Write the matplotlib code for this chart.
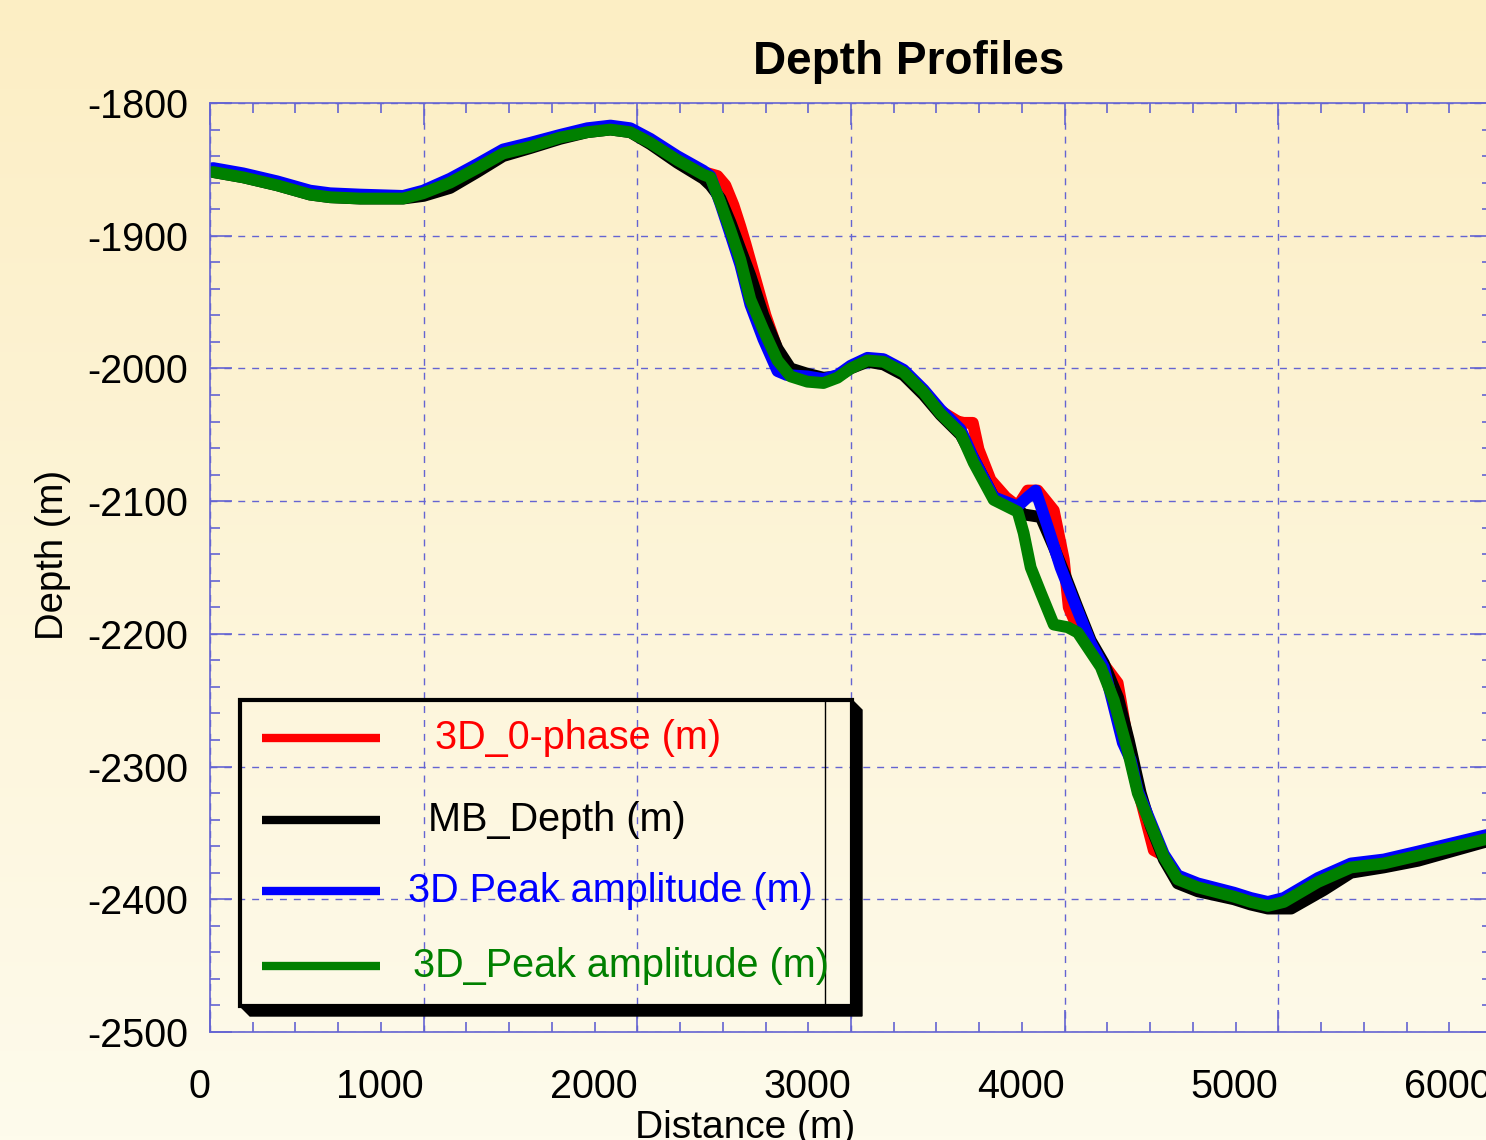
import matplotlib

matplotlib.use("Agg")
import matplotlib.pyplot as plt
import numpy as np
from matplotlib.lines import Line2D
from matplotlib.patches import Polygon, Rectangle
from matplotlib.ticker import MultipleLocator

W, H = 1486, 1140
SPINE = "#6464d2"

# --- data (distance m, depth m) ---
dist_red = [14, 155, 314, 468, 562, 703, 904, 998, 1124, 1251, 1372, 1499, 1639, 1766,
            1874, 1967, 2061, 2187, 2309, 2375, 2412, 2450, 2482, 2506, 2553, 2600, 2656,
            2717, 2796, 2871, 2937, 2998, 3077, 3152, 3246, 3340, 3419, 3500, 3527, 3570,
            3597, 3653, 3724, 3780, 3827, 3874, 3949, 3996, 4019, 4075, 4169, 4248, 4276,
            4309, 4356, 4417, 4464, 4529, 4623, 4792, 4871, 4951, 5026, 5185, 5340, 5494,
            5654, 5808, 5963, 6050]
depth_red = [-1851, -1855, -1861, -1868, -1870, -1871, -1871, -1867, -1859, -1848, -1837,
             -1832, -1825, -1821, -1819, -1821, -1829, -1842, -1852, -1855, -1862, -1877,
             -1893, -1906, -1933, -1960, -1986, -2002, -2006, -2009, -2006, -1999, -1993,
             -1994, -2002, -2017, -2032, -2040, -2041, -2041, -2061, -2084, -2097, -2104,
             -2092, -2092, -2107, -2144, -2180, -2201, -2220, -2237, -2263, -2295, -2325,
             -2363, -2367, -2384, -2390, -2397, -2401, -2404, -2401, -2386, -2375, -2372,
             -2366, -2360, -2354, -2351]

dist_mb = [14, 155, 314, 468, 562, 703, 904, 1000, 1124, 1251, 1372, 1499, 1639, 1766,
           1874, 1967, 2061, 2187, 2309, 2342, 2389, 2436, 2482, 2529, 2590, 2656, 2717,
           2796, 2871, 2937, 2998, 3077, 3152, 3246, 3340, 3419, 3513, 3574, 3668, 3780,
           3808, 3888, 3950, 4000, 4060, 4122, 4183, 4250, 4300, 4356, 4403, 4464, 4529,
           4623, 4792, 4871, 4951, 5060, 5213, 5340, 5494, 5654, 5808, 5963, 6050]
depth_mb = [-1852, -1856, -1862, -1869, -1871, -1872, -1872, -1870, -1864, -1852, -1840,
            -1834, -1827, -1822, -1820, -1822, -1831, -1845, -1857, -1862, -1872, -1890,
            -1910, -1930, -1960, -1985, -2000, -2004, -2007, -2006, -2000, -1995, -1997,
            -2005, -2020, -2035, -2050, -2068, -2097, -2106, -2110, -2112, -2135, -2155,
            -2180, -2205, -2222, -2248, -2280, -2320, -2345, -2370, -2388, -2394, -2400,
            -2404, -2407, -2407, -2393, -2380, -2376, -2371, -2364, -2357, -2355]

dist_blue = [14, 155, 314, 468, 562, 703, 904, 998, 1124, 1251, 1372, 1499, 1639, 1766,
             1874, 1967, 2061, 2187, 2309, 2342, 2389, 2436, 2482, 2529, 2590, 2656, 2700,
             2796, 2871, 2937, 2998, 3077, 3152, 3246, 3340, 3419, 3513, 3574, 3668, 3780,
             3827, 3864, 3920, 3981, 4042, 4122, 4183, 4230, 4272, 4309, 4342, 4403, 4464,
             4529, 4623, 4792, 4871, 4951, 5026, 5185, 5340, 5494, 5654, 5808, 5963, 6050]
depth_blue = [-1849, -1853, -1859, -1866, -1868, -1869, -1870, -1866, -1857, -1846, -1835,
              -1830, -1824, -1819, -1817, -1819, -1827, -1840, -1851, -1855, -1876, -1899,
              -1922, -1952, -1978, -2002, -2005, -2006, -2008, -2005, -1998, -1992, -1993,
              -2001, -2016, -2031, -2046, -2068, -2097, -2104, -2097, -2092, -2119, -2150,
              -2175, -2207, -2225, -2255, -2282, -2295, -2318, -2342, -2366, -2382, -2388,
              -2395, -2399, -2402, -2399, -2384, -2373, -2370, -2364, -2358, -2352, -2349]

dist_green = [14, 155, 314, 468, 562, 703, 904, 998, 1124, 1251, 1372, 1499, 1639, 1766,
              1874, 1967, 2061, 2187, 2309, 2342, 2389, 2436, 2482, 2529, 2590, 2656, 2717,
              2796, 2871, 2937, 2998, 3077, 3152, 3246, 3340, 3419, 3513, 3574, 3668, 3780,
              3808, 3841, 3888, 3949, 4014, 4061, 4169, 4230, 4295, 4342, 4403, 4464, 4529,
              4623, 4792, 4871, 4951, 5026, 5185, 5340, 5494, 5654, 5808, 5963, 6050]
depth_green = [-1852, -1856, -1862, -1869, -1871, -1872, -1872, -1868, -1860, -1849, -1838,
               -1833, -1826, -1822, -1820, -1822, -1830, -1843, -1854, -1856, -1875, -1896,
               -1918, -1948, -1971, -1994, -2006, -2010, -2011, -2007, -2000, -1994, -1995,
               -2003, -2018, -2034, -2049, -2071, -2099, -2108, -2124, -2150, -2169, -2193,
               -2195, -2199, -2225, -2250, -2288, -2320, -2344, -2368, -2385, -2391, -2398,
               -2402, -2405, -2402, -2387, -2376, -2373, -2367, -2361, -2355, -2352]

SERIES = [
    ("3D_0-phase (m)", dist_red, depth_red, "#ff0000"),
    ("MB_Depth (m)", dist_mb, depth_mb, "#000000"),
    ("3D Peak amplitude (m)", dist_blue, depth_blue, "#0000ff"),
    ("3D_Peak amplitude (m)", dist_green, depth_green, "#008000"),
]
X_TICKS = [0, 1000, 2000, 3000, 4000, 5000, 6000]
Y_TICKS = [-2500, -2400, -2300, -2200, -2100, -2000, -1900, -1800]

# legend layout in figure pixels: (line y, text x)
LEGEND_ROWS = [(738, 435), (820, 428), (891, 408), (966, 413)]

plt.rcParams["font.family"] = ["Liberation Sans", "DejaVu Sans"]
plt.rcParams["axes.unicode_minus"] = False


def px(x, y):
    return x / W, 1 - y / H


def draw_background(fig):
    bg = fig.add_axes([0, 0, 1, 1], zorder=-10)
    top = np.array([252, 238, 196]) / 255
    bottom = np.array([254, 251, 236]) / 255
    t = np.linspace(0, 1, 256)[:, None]
    grad = top * (1 - t) + bottom * t
    bg.imshow(grad[:, None, :], aspect="auto", extent=[0, 1, 0, 1])
    bg.axis("off")


def draw_legend(fig):
    lg = fig.add_axes([0, 0, 1, 1], zorder=5)
    lg.set_xlim(0, W)
    lg.set_ylim(H, 0)
    lg.axis("off")
    lg.patch.set_alpha(0)
    shadow = [(852, 700), (862, 710), (862, 1016), (250, 1016), (240, 1006), (852, 1006)]
    lg.add_patch(Polygon(shadow, closed=True, facecolor="black", edgecolor="black", lw=1))
    lg.add_patch(Rectangle((240, 700), 612, 306, fill=False, edgecolor="black", lw=3))
    lg.add_line(Line2D([825, 825], [701, 1005], color="black", lw=1))
    for (label, _, _, color), (ly, tx) in zip(SERIES, LEGEND_ROWS):
        lg.add_line(Line2D([262, 380], [ly, ly], color=color, lw=6, solid_capstyle="butt"))
        lg.text(tx, ly, label, color=color, fontsize=28.5, va="center", ha="left")


def main() -> None:
    fig = plt.figure(figsize=(W / 100, H / 100), dpi=100)
    draw_background(fig)

    l, b = px(210, 1032)
    r, t = px(1492, 103)
    ax = fig.add_axes([l, b, r - l, t - b])
    ax.patch.set_alpha(0)

    for label, xs, ys, color in SERIES:
        ax.plot(xs, ys, color=color, lw=8.5, solid_joinstyle="round",
                solid_capstyle="round", label=label)

    ax.set_xlim(0, 6000)
    ax.set_ylim(-2500, -1800)
    ax.set_xticks(X_TICKS)
    ax.set_yticks(Y_TICKS)
    ax.xaxis.set_minor_locator(MultipleLocator(200))
    ax.yaxis.set_minor_locator(MultipleLocator(20))
    ax.set_xticklabels([str(v) for v in X_TICKS], ha="right")
    ax.tick_params(which="both", direction="in", top=True, right=True, color=SPINE,
                   width=1.2, labelsize=28.5)
    ax.tick_params(which="major", length=16)
    ax.tick_params(which="minor", length=7)
    ax.tick_params(axis="x", which="major", pad=26)
    ax.tick_params(axis="y", which="major", pad=16)
    for s in ax.spines.values():
        s.set_color(SPINE)
        s.set_linewidth(1.2)
    ax.grid(True, which="major", color=SPINE, lw=1, linestyle=(0, (5, 5)))
    ax.set_axisbelow(True)

    fig.text(*px(909, 62), "Depth Profiles", fontsize=33, fontweight="bold",
             ha="center", va="center")
    fig.text(*px(53, 555), "Depth (m)", fontsize=27.5, rotation=90, ha="center", va="center")
    fig.text(*px(745, 1110), "Distance (m)", fontsize=28, ha="center", va="top")

    draw_legend(fig)
    fig.savefig("out.png", dpi=100)
    plt.close(fig)


if __name__ == "__main__":
    main()
